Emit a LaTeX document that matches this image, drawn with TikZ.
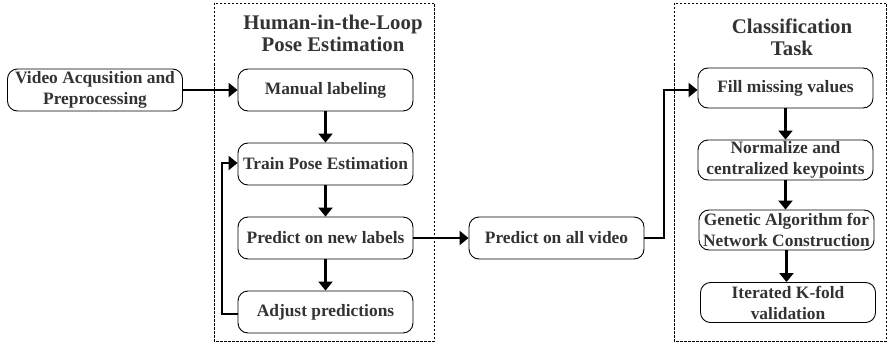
\documentclass[tikz,border=0pt]{standalone}
\usepackage{fontspec}
\setmainfont{Liberation Serif}
\usetikzlibrary{arrows.meta}
\definecolor{txt}{gray}{0.2}
\tikzset{
  box/.style={draw=black, line width=0.9pt, rounded corners=10pt, minimum width=175pt, minimum height=42pt, inner sep=0pt, align=center, text=txt, font=\fontsize{17.4}{21}\selectfont\bfseries},
  ttl/.style={align=center, text=txt, inner sep=0pt, font=\fontsize{20.8}{22}\selectfont\bfseries},
  frame/.style={draw=black, line width=0.8pt, dash pattern=on 2.5pt off 1.5pt},
  conn/.style={line width=2.2pt, -{Triangle[length=9pt,width=14pt]}},
  plain/.style={line width=2.2pt}
}
\begin{document}
\begin{tikzpicture}[x=1pt,y=-1pt]
\useasboundingbox (0,0) rectangle (888,345);
% frames
\draw[frame] (214,3) rectangle (434,341);
\draw[frame] (674,3) rectangle (886,341);
\node[ttl] (t1) at (333,33) {Human-in-the-Loop\\Pose Estimation};
\node[ttl] (t2) at (792,37) {Classification\\Task};
% nodes
\node[box] (video) at (95,90) {Video Acqusition and\\Preprocessing};
\node[box] (manual) at (325.5,90) {Manual labeling};
\node[box] (train) at (325.5,164) {Train Pose Estimation};
\node[box] (pnew) at (325.5,238) {Predict on new labels};
\node[box] (adjust) at (325.5,312) {Adjust predictions};
\node[box] (pall) at (556.5,238) {Predict on all video};
\node[box, minimum height=40pt] (fill) at (785.5,88) {Fill missing values};
\node[box, minimum height=40pt] (norm) at (785.5,160) {Normalize and\\centralized keypoints};
\node[box, minimum height=40pt] (gen) at (786.5,230) {Genetic Algorithm for\\Network Construction};
\node[box, minimum height=40pt] (iter) at (788,302.5) {Iterated K-fold\\validation};
% connectors
\draw[conn] (video.east) -- (manual.west);
\draw[conn] (manual.south) -- (train.north);
\draw[conn] (train.south) -- (pnew.north);
\draw[conn] (pnew.south) -- (adjust.north);
\coordinate (l1) at (222,314);
\coordinate (l2) at (222,163);
\draw[conn] (adjust.west |- l1) -- (l1) -- (l2) -- (train.west |- l2);
\draw[conn] (pnew.east) -- (pall.west);
\coordinate (r1) at (664,238);
\coordinate (r2) at (664,90);
\draw[conn] (pall.east) -- (r1) -- (r2) -- (fill.west |- r2);
\draw[conn] (fill.south) -- (norm.north);
\draw[conn] (norm.south) -- (norm.south |- gen.north);
\draw[conn] (gen.south) -- (gen.south |- iter.north);
\end{tikzpicture}
\end{document}
